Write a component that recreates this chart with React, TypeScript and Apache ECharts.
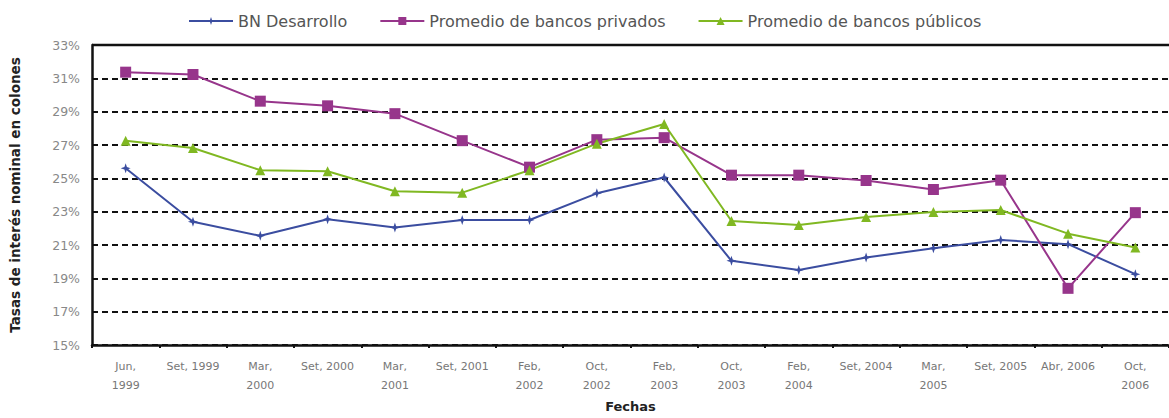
import React, { useEffect, useRef } from "react";
import * as echarts from "echarts";

const categories = [
  "Jun,\n1999", "Set, 1999", "Mar,\n2000", "Set, 2000", "Mar,\n2001", "Set, 2001",
  "Feb,\n2002", "Oct,\n2002", "Feb,\n2003", "Oct,\n2003", "Feb,\n2004", "Set, 2004",
  "Mar,\n2005", "Set, 2005", "Abr, 2006", "Oct,\n2006",
];

const bnDesarrollo = [25.6, 22.4, 21.55, 22.55, 22.05, 22.5, 22.5, 24.1, 25.05, 20.05, 19.5, 20.25, 20.8, 21.3, 21.05, 19.25];
const bancosPrivados = [31.37, 31.23, 29.63, 29.35, 28.88, 27.26, 25.67, 27.32, 27.44, 25.19, 25.19, 24.87, 24.33, 24.89, 18.4, 22.94];
const bancosPublicos = [27.26, 26.82, 25.49, 25.43, 24.23, 24.14, 25.49, 27.08, 28.26, 22.44, 22.2, 22.68, 22.98, 23.1, 21.68, 20.85];

const yMin = 15;
const yMax = 33;
const yStep = 2;

const FONT = "DejaVu Sans";
const starSymbol = "path://M0,-10 L2.5,-2.5 L10,0 L2.5,2.5 L0,10 L-2.5,2.5 L-10,0 L-2.5,-2.5 Z";

export default function App() {
  const ref = useRef<HTMLDivElement>(null);
  useEffect(() => {
    if (!ref.current) return;
    const chart = echarts.init(ref.current, null, { renderer: "svg" });
    const mk = (name: string, data: number[], color: string, symbol: string, size: number) => ({
      name,
      type: "line",
      data,
      symbol,
      symbolSize: size,
      showAllSymbol: true,
      lineStyle: { color, width: 2 },
      itemStyle: { color, borderWidth: 0 },
      emphasis: { disabled: true },
    });
    chart.setOption({
      animation: false,
      backgroundColor: "#ffffff",
      textStyle: { fontFamily: FONT },
      legend: {
        top: 8,
        left: 183,
        itemWidth: 44,
        itemHeight: 10,
        itemGap: 32,
        textStyle: { fontFamily: FONT, fontSize: 16, color: "#555" },
        data: ["BN Desarrollo", "Promedio de bancos privados", "Promedio de bancos públicos"],
      },
      grid: { left: 92, right: -5, top: 45, bottom: 71, containLabel: false },
      xAxis: {
        type: "category",
        data: categories,
        boundaryGap: true,
        name: "Fechas",
        nameLocation: "middle",
        nameGap: 55,
        nameTextStyle: { fontFamily: FONT, fontSize: 13, fontWeight: "bold", color: "#222" },
        axisLine: { show: true, lineStyle: { color: "#111", width: 2.5 } },
        axisTick: { show: true, inside: false, length: 3, alignWithLabel: false, lineStyle: { color: "#111", width: 2 } },
        axisLabel: { interval: 0, fontFamily: FONT, fontSize: 11, color: "#777", margin: 12, lineHeight: 19 },
        splitLine: { show: false },
      },
      yAxis: {
        type: "value",
        min: yMin,
        max: yMax,
        interval: yStep,
        name: "Tasas de interés nominal en colones",
        nameLocation: "middle",
        nameGap: 70,
        nameRotate: 90,
        nameTextStyle: { fontFamily: FONT, fontSize: 13.5, fontWeight: "bold", color: "#222" },
        axisLine: { show: true, lineStyle: { color: "#111", width: 2.5 } },
        axisTick: { show: false },
        axisLabel: { formatter: "{value}%", fontFamily: FONT, fontSize: 12.5, color: "#888", margin: 12 },
        splitLine: { show: true, lineStyle: { color: "#111", width: 2, type: [6, 4] } },
      },
      graphic: [
        {
          type: "line",
          shape: { x1: 92, y1: 45, x2: 1169, y2: 45 },
          style: { stroke: "#111", lineWidth: 2.5 },
          silent: true,
        },
      ],
      series: [
        mk("BN Desarrollo", bnDesarrollo, "#3b4da0", starSymbol, 10),
        mk("Promedio de bancos privados", bancosPrivados, "#97358b", "rect", 11),
        mk("Promedio de bancos públicos", bancosPublicos, "#80b822", "triangle", 10),
      ],
    });
    return () => chart.dispose();
  }, []);
  return (
    <div
      ref={ref}
      style={{ position: "fixed", left: 0, top: 0, width: 1169, height: 418, background: "#fff" }}
    />
  );
}
